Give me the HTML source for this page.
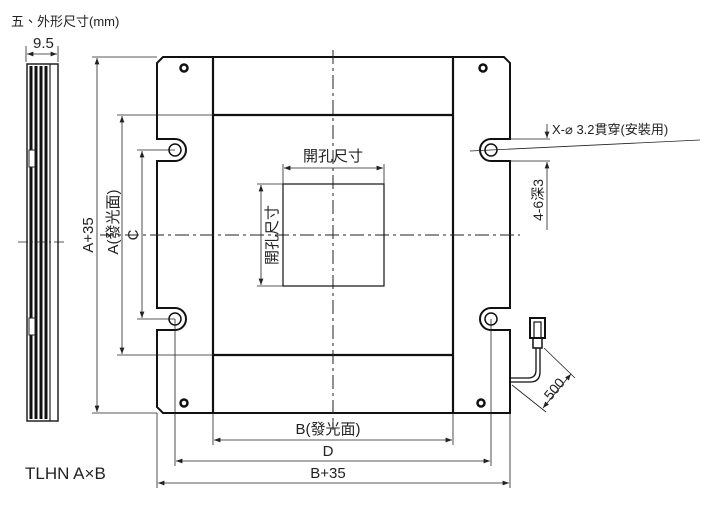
<!DOCTYPE html>
<html><head><meta charset="utf-8"><style>
body{margin:0;background:#fff;width:724px;height:520px;overflow:hidden}
svg{display:block}
text{font-family:"Liberation Sans","Noto Sans CJK TC",sans-serif;fill:#222}
</style></head><body>
<svg width="724" height="520" viewBox="0 0 724 520" xmlns="http://www.w3.org/2000/svg">
<defs>
<marker id="a" markerWidth="8" markerHeight="6" refX="8" refY="3" orient="auto-start-reverse"><path d="M0,0 L8,3 L0,6 z" fill="#222"/></marker>
</defs>
<text x="11" y="26" font-size="13">五、外形尺寸(mm)</text>
<!-- side view -->
<text x="33" y="48" font-size="15">9.5</text>
<line x1="26" y1="46" x2="26" y2="62" stroke="#222" stroke-width="0.8"/>
<line x1="58" y1="46" x2="58" y2="62" stroke="#222" stroke-width="0.8"/>
<line x1="27" y1="54" x2="57" y2="54" stroke="#222" stroke-width="0.8" marker-start="url(#a)" marker-end="url(#a)"/>
<rect x="27" y="64" width="31" height="357" fill="none" stroke="#222" stroke-width="1.5"/>
<g stroke="#111" stroke-width="3">
<line x1="31" y1="66" x2="31" y2="419"/><line x1="36" y1="66" x2="36" y2="419"/><line x1="41" y1="66" x2="41" y2="419"/><line x1="46" y1="66" x2="46" y2="419"/>
</g>
<line x1="50" y1="64" x2="50" y2="421" stroke="#222" stroke-width="1.2"/>
<rect x="29" y="150" width="6" height="17" fill="#fff" stroke="#222"/>
<rect x="29" y="318" width="6" height="17" fill="#fff" stroke="#222"/>
<line x1="18" y1="242" x2="65" y2="242" stroke="#222" stroke-width="0.8" stroke-dasharray="10,3,2,3"/>
<text x="25" y="479" font-size="17">TLHN A×B</text>
<!-- plate -->
<path d="M163,57 L504,57 L510,63 L510,139 L491,139 A11,11 0 0 0 491,161 L510,161 L510,308 L491,308 A11,11 0 0 0 491,330 L510,330 L510,413 L163,413 L157,407 L157,330 L175,330 A11,11 0 0 0 175,308 L157,308 L157,161 L175,161 A11,11 0 0 0 175,139 L157,139 L157,63 Z" fill="none" stroke="#111" stroke-width="2"/>
<g stroke="#111" stroke-width="2.2">
<line x1="213" y1="57" x2="213" y2="413"/><line x1="453" y1="57" x2="453" y2="413"/>
<line x1="213" y1="115" x2="453" y2="115"/><line x1="213" y1="355" x2="453" y2="355"/>
</g>
<g fill="none" stroke="#111">
<circle cx="175" cy="150" r="6" stroke-width="1.5"/><circle cx="491" cy="150" r="6" stroke-width="1.5"/>
<circle cx="175" cy="319" r="6" stroke-width="1.5"/><circle cx="491" cy="319" r="6" stroke-width="1.5"/>
<circle cx="184" cy="68" r="3.5" stroke-width="2.5"/><circle cx="483" cy="68" r="3.5" stroke-width="2.5"/>
<circle cx="184" cy="403" r="3.5" stroke-width="2.5"/><circle cx="481" cy="403" r="3.5" stroke-width="2.5"/>
</g>
<!-- center lines -->
<g stroke="#222" stroke-width="1" stroke-dasharray="14,4,3,4">
<line x1="333" y1="50" x2="333" y2="430"/>
<line x1="100" y1="235" x2="520" y2="235"/>
</g>
<!-- opening -->
<rect x="283" y="184" width="101" height="102" fill="none" stroke="#111" stroke-width="1.2"/>
<line x1="283" y1="164" x2="283" y2="184" stroke="#222" stroke-width="0.8"/>
<line x1="384" y1="164" x2="384" y2="184" stroke="#222" stroke-width="0.8"/>
<line x1="284" y1="168" x2="383" y2="168" stroke="#222" stroke-width="0.8" marker-start="url(#a)" marker-end="url(#a)"/>
<text x="333" y="161" font-size="15" text-anchor="middle">開孔尺寸</text>
<line x1="257" y1="184" x2="283" y2="184" stroke="#222" stroke-width="0.8"/>
<line x1="257" y1="286" x2="283" y2="286" stroke="#222" stroke-width="0.8"/>
<line x1="261" y1="185" x2="261" y2="285" stroke="#222" stroke-width="0.8" marker-start="url(#a)" marker-end="url(#a)"/>
<text transform="translate(277,235) rotate(-90)" font-size="15" text-anchor="middle">開孔尺寸</text>
<!-- left dims -->
<g stroke="#222" stroke-width="0.8">
<line x1="92" y1="57" x2="157" y2="57"/><line x1="92" y1="413" x2="157" y2="413"/>
<line x1="117" y1="115" x2="213" y2="115"/><line x1="117" y1="355" x2="213" y2="355"/>
<line x1="137" y1="150" x2="175" y2="150"/><line x1="137" y1="319" x2="175" y2="319"/>
<line x1="97" y1="58" x2="97" y2="412" marker-start="url(#a)" marker-end="url(#a)"/>
<line x1="122" y1="116" x2="122" y2="354" marker-start="url(#a)" marker-end="url(#a)"/>
<line x1="142" y1="151" x2="142" y2="318" marker-start="url(#a)" marker-end="url(#a)"/>
</g>
<text transform="translate(93,235) rotate(-90)" font-size="15" text-anchor="middle">A+35</text>
<text transform="translate(118,222) rotate(-90)" font-size="15" text-anchor="middle">A(發光面)</text>
<text transform="translate(138,235) rotate(-90)" font-size="15" text-anchor="middle">C</text>
<!-- bottom dims -->
<g stroke="#222" stroke-width="0.8">
<line x1="213" y1="413" x2="213" y2="445"/><line x1="453" y1="413" x2="453" y2="445"/>
<line x1="175" y1="319" x2="175" y2="466"/><line x1="491" y1="319" x2="491" y2="466"/>
<line x1="157" y1="413" x2="157" y2="488"/><line x1="510" y1="413" x2="510" y2="488"/>
<line x1="214" y1="440" x2="452" y2="440" marker-start="url(#a)" marker-end="url(#a)"/>
<line x1="176" y1="461" x2="490" y2="461" marker-start="url(#a)" marker-end="url(#a)"/>
<line x1="158" y1="483" x2="509" y2="483" marker-start="url(#a)" marker-end="url(#a)"/>
</g>
<text x="328" y="434" font-size="15" text-anchor="middle">B(發光面)</text>
<text x="328" y="456" font-size="15" text-anchor="middle">D</text>
<text x="328" y="478" font-size="15" text-anchor="middle">B+35</text>
<!-- right annotations -->
<g stroke="#222" stroke-width="0.8">
<line x1="470" y1="151" x2="700" y2="140"/>
<line x1="510" y1="139" x2="550" y2="139"/><line x1="510" y1="161" x2="550" y2="161"/>
<line x1="547" y1="124" x2="547" y2="138" marker-end="url(#a)"/>
<line x1="547" y1="230" x2="547" y2="162" marker-end="url(#a)"/>
</g>
<text x="552" y="134" font-size="13">X-⌀ 3.2貫穿(安裝用)</text>
<text transform="translate(543,200) rotate(-90)" font-size="14" text-anchor="middle">4-6深3</text>
<!-- cable -->
<rect x="530" y="318" width="15" height="20" fill="none" stroke="#111" stroke-width="2"/>
<rect x="534" y="322" width="7" height="16" fill="none" stroke="#111" stroke-width="1.2"/>
<rect x="533" y="338" width="9" height="10" fill="none" stroke="#111" stroke-width="1.5"/>
<path d="M536,348 L536,370 Q536,378 528,378 L510,378 M540,348 L540,372 Q540,382 530,382 L510,382" fill="none" stroke="#111" stroke-width="1.3"/>
<g stroke="#222" stroke-width="0.8">
<line x1="544" y1="348" x2="575" y2="378"/><line x1="512" y1="385" x2="546" y2="412"/>
<line x1="571" y1="374" x2="543" y2="408" marker-start="url(#a)" marker-end="url(#a)"/>
</g>
<text transform="translate(558,392) rotate(-50)" font-size="14" text-anchor="middle">500</text>
</svg>
</body></html>
